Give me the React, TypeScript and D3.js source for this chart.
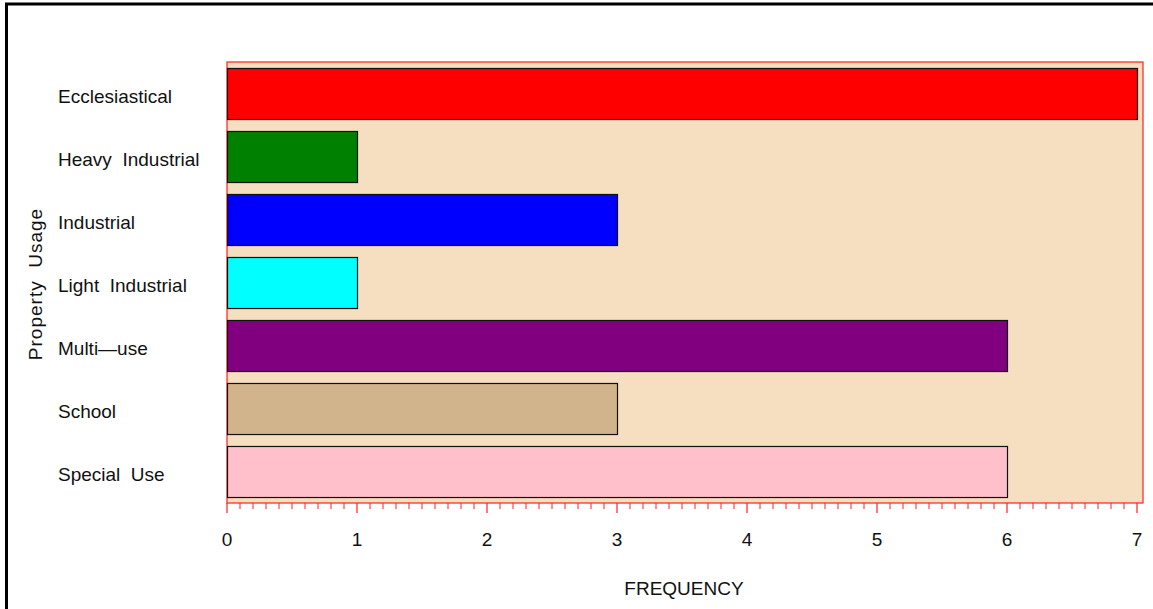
import React from "react";
import * as d3 from "d3";

const categories = [
  "Ecclesiastical",
  "Heavy Industrial",
  "Industrial",
  "Light Industrial",
  "Multi\u2014use",
  "School",
  "Special Use",
];
const frequencies = [7, 1, 3, 1, 6, 3, 6];
const barColors = ["#FF0000", "#008000", "#0000FF", "#00FFFF", "#800080", "#D2B48C", "#FFC0CB"];
const xTickValues = [0, 1, 2, 3, 4, 5, 6, 7];
const yTitle = "Property Usage";
const xTitle = "FREQUENCY";

const W = 1153;
const H = 609;
const plot = { left: 227, right: 1143, top: 62, bottom: 503 };
const FONT = "'Liberation Sans', Arial, sans-serif";

export default function App() {
  const x = d3.scaleLinear().domain([0, 7]).range([227, 1137]);
  const y = d3
    .scaleBand<string>()
    .domain(categories)
    .range([plot.top, plot.bottom])
    .paddingInner(0.19)
    .paddingOuter(0.095);
  const minorTicks = d3.range(0, 70).map((i) => i / 10).filter((v) => Math.abs(v - Math.round(v)) > 1e-6);

  return (
    <svg
      width={W}
      height={H}
      style={{ position: "absolute", left: 0, top: 0, display: "block", background: "#fff" }}
    >
      <rect x={6.5} y={4} width={W + 20} height={H + 20} fill="#fff" stroke="#000" strokeWidth={3} />
      <rect
        x={plot.left}
        y={plot.top}
        width={plot.right - plot.left}
        height={plot.bottom - plot.top}
        fill="#F5DFC0"
        stroke="#FF2020"
        strokeWidth={1.2}
      />
      {categories.map((c, i) => (
        <rect
          key={c}
          x={x(0) + 0.5}
          y={(y(c) as number) + 0.5}
          width={x(frequencies[i]) - x(0)}
          height={y.bandwidth()}
          fill={barColors[i]}
          stroke="#111"
          strokeWidth={1.2}
        />
      ))}
      {minorTicks.map((v) => (
        <line key={"m" + v} x1={x(v)} x2={x(v)} y1={plot.bottom} y2={plot.bottom + 6} stroke="#FF2020" strokeWidth={1} />
      ))}
      {xTickValues.map((v) => (
        <g key={"t" + v}>
          <line x1={x(v)} x2={x(v)} y1={plot.bottom} y2={plot.bottom + 10} stroke="#FF2020" strokeWidth={1.2} />
          <text x={x(v)} y={546} textAnchor="middle" fontFamily={FONT} fontSize={19} fill="#111">
            {v}
          </text>
        </g>
      ))}
      {categories.map((c) => (
        <text
          key={"l" + c}
          x={58}
          y={(y(c) as number) + y.bandwidth() / 2 + 9.5}
          fontFamily={FONT}
          fontSize={19}
          fill="#111"
          style={{ whiteSpace: "pre" }}
        >
          {c.replace(" ", "  ")}
        </text>
      ))}
      <text
        transform={`translate(42,${(plot.top + plot.bottom) / 2 + 1.5}) rotate(-90)`}
        textAnchor="middle"
        fontFamily={FONT}
        fontSize={19}
        letterSpacing={1}
        fill="#111"
        style={{ whiteSpace: "pre" }}
      >
        {yTitle.replace(" ", "  ")}
      </text>
      <text x={684} y={595} textAnchor="middle" fontFamily={FONT} fontSize={19} fill="#111">
        {xTitle}
      </text>
    </svg>
  );
}
